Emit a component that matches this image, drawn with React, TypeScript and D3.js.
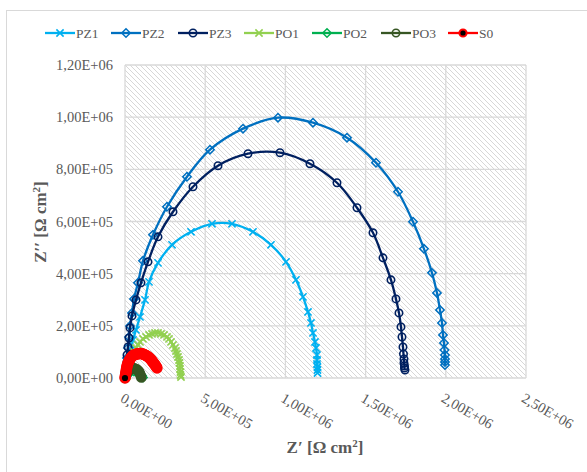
import React from 'react';
import * as d3 from 'd3';

const W = 587;
const H = 472;

const xTicks = [0, 5e5, 1e6, 1.5e6, 2e6, 2.5e6];
const yTicks = [0, 2e5, 4e5, 6e5, 8e5, 1e6, 1.2e6];
const seriesNames = ['PZ1', 'PZ2', 'PZ3', 'PO1', 'PO2', 'PO3', 'S0'];

const PZ1: [number, number][] = [
  [6234, 7678], [18702, 23034], [24936, 49907], [31170, 76780], [37404, 107492],
  [49872, 145882], [68574, 184272], [93510, 234179], [124680, 299442], [149616, 368544],
  [205722, 441485], [292998, 510587], [411444, 560494], [542358, 591206], [667038, 591206],
  [797952, 560494], [910164, 510587], [1003674, 445324], [1066014, 376222], [1109652, 310959],
  [1140822, 253374], [1159524, 211145], [1171992, 172755], [1184460, 138204], [1190694, 115170],
  [1196928, 88297], [1196928, 69102], [1196928, 53746], [1200045, 42229], [1200045, 30712],
  [1200045, 19195],
];

const PZ2: [number, number][] = [
  [0, 0], [6234, 38390], [12468, 76780], [18702, 115170], [24936, 157399],
  [31170, 199628], [43638, 249535], [56106, 303281], [81042, 364705], [112212, 449163],
  [174552, 548977], [261828, 656469], [386508, 771639], [529890, 875292], [735612, 955911],
  [953802, 998140], [1171992, 978945], [1383948, 921360], [1564734, 825385], [1701882, 714054],
  [1795392, 598884], [1863966, 495231], [1913838, 403095], [1945008, 326315], [1963710, 261052],
  [1976178, 211145], [1982412, 165077], [1988646, 134365], [1991763, 107492], [1994880, 88297],
  [1994880, 72941], [1994880, 61424], [1994880, 49907],
];

const PZ3: [number, number][] = [
  [0, 0], [6234, 30712], [12468, 61424], [12468, 88297], [18702, 119009],
  [24936, 153560], [31170, 191950], [43638, 238018], [68574, 299442], [99744, 364705],
  [143382, 445324], [205722, 541299], [299232, 637274], [423912, 733249], [579762, 813868],
  [766782, 859936], [966270, 863775], [1153290, 821546], [1321608, 748605], [1446288, 652630],
  [1546032, 556655], [1608372, 460680], [1658244, 376222], [1689414, 303281], [1708116, 249535],
  [1720584, 195789], [1726818, 157399], [1733052, 119009], [1736169, 92136], [1739286, 72941],
  [1739286, 57585], [1742403, 46068], [1742403, 38390], [1745520, 30712],
];

const PO1: [number, number][] = [
  [12468, 7678], [18702, 23034], [24936, 38390], [31170, 53746], [37404, 69102],
  [43638, 84458], [56106, 99814], [68574, 115170], [81042, 126687], [93510, 138204],
  [112212, 149721], [130914, 157399], [149616, 165077], [168318, 168916], [187020, 172755],
  [205722, 172755], [224424, 168916], [243126, 165077], [261828, 157399], [274296, 149721],
  [286764, 138204], [299232, 126687], [311700, 115170], [317934, 103653], [324168, 92136],
  [330402, 80619], [336636, 69102], [339753, 57585], [342870, 46068], [342870, 34551],
  [345987, 23034], [345987, 11517], [349104, 3839],
];

const PO2: [number, number][] = [
  [0, 0], [6234, 7678], [18702, 15356], [37404, 23034], [56106, 24954],
  [74808, 23034], [93510, 17276], [105978, 9598], [112212, 1920],
];

const PO3: [number, number][] = [
  [0, 0], [3117, 7678], [6234, 13436], [12468, 19195], [18702, 24954],
  [24936, 29000], [31170, 32632], [37404, 34551], [43638, 36471], [49872, 37430],
  [56106, 37430], [62340, 36471], [68574, 34551], [74808, 32632], [81042, 28793],
  [87276, 24954], [91640, 19195], [95380, 13436], [99120, 7678], [101620, 1920],
];

const S0: [number, number][] = [
  [0, 0], [1500, 5760], [3117, 11517], [4700, 17276], [6234, 23034],
  [7800, 28793], [9351, 34551], [11000, 40310], [12468, 46068], [15600, 51827],
  [18702, 57585], [21800, 61424], [24936, 65263], [28000, 69102], [31170, 72941],
  [35800, 76780], [40521, 80619], [45200, 83500], [49872, 86378], [56100, 88297],
  [62340, 90217], [68574, 91177], [74808, 92136], [81042, 93096], [87276, 94056],
  [93510, 94056], [99744, 94056], [105978, 93096], [112212, 92136], [118446, 90217],
  [124680, 88297], [130914, 86378], [137148, 84458], [143382, 81579], [149616, 78700],
  [155850, 74861], [162084, 71022], [166760, 67183], [171435, 63344], [176110, 59505],
  [180786, 55666], [185460, 51827], [190137, 47988], [194810, 43189], [199488, 38390],
];

const seriesData = [PZ1, PZ2, PZ3, PO1, PO2, PO3, S0];
const colors = ['#00B0F0', '#0070C0', '#002060', '#92D050', '#00B050', '#375623', '#FF0000'];
const markers = ['x', 'diamond', 'circle', 'x', 'diamond', 'circle', 'dot'];

const plot = { left: 125, right: 526, top: 65, bottom: 378 };
const legendX = [45, 111, 178, 244, 312, 381, 448];

const TEXT = '#595959';
const GRID = '#d9d9d9';
const FONT = '"Liberation Serif", "Times New Roman", serif';

const fmt = (v: number) =>
  v.toExponential(2).replace('.', ',').replace('e+', 'E+').replace(/E\+(\d)$/, 'E+0$1');

function Marker({ type, x, y, color, big }: { type: string; x: number; y: number; color: string; big?: boolean }) {
  if (type === 'x') {
    const s = 3.6;
    return (
      <path
        d={`M${x - s},${y - s}L${x + s},${y + s}M${x - s},${y + s}L${x + s},${y - s}`}
        stroke={color}
        strokeWidth={1.6}
        fill="none"
      />
    );
  }
  if (type === 'diamond') {
    const s = 4.2;
    return (
      <path
        d={`M${x},${y - s}L${x + s},${y}L${x},${y + s}L${x - s},${y}Z`}
        stroke={color}
        strokeWidth={1.5}
        fill="none"
      />
    );
  }
  if (type === 'circle') {
    return <circle cx={x} cy={y} r={big ? 4.2 : 3.7} stroke={color} strokeWidth={big ? 2.2 : 1.6} fill="none" />;
  }
  return <circle cx={x} cy={y} r={big ? 4.4 : 3.6} stroke={color} strokeWidth={big ? 2.6 : 2} fill="#000" />;
}

export default function App() {
  const x = d3.scaleLinear().domain([0, 2.5e6]).range([plot.left, plot.right]);
  const y = d3.scaleLinear().domain([0, 1.2e6]).range([plot.bottom, plot.top]);
  const line = d3
    .line<[number, number]>()
    .x((d) => x(d[0]))
    .y((d) => y(d[1]))
    .curve(d3.curveCatmullRom.alpha(0.5));

  return (
    <svg
      width={W}
      height={H}
      style={{ position: 'absolute', left: 0, top: 0, background: '#fff' }}
      fontFamily={FONT}
    >
      <defs>
        <pattern id="hatch" patternUnits="userSpaceOnUse" width={5} height={5}>
          <path d="M-1,-1L6,6M-1,4L1,6M4,-1L6,1" stroke="#d3d3d3" strokeWidth={0.9} />
        </pattern>
        <clipPath id="clip">
          <rect x={plot.left - 6} y={plot.top - 6} width={plot.right - plot.left + 12} height={plot.bottom - plot.top + 12} />
        </clipPath>
      </defs>
      <rect x={0} y={0} width={W} height={H} fill="#fff" />
      <rect x={6.5} y={10.5} width={700} height={700} fill="none" stroke={GRID} strokeWidth={1} />

      <rect
        x={plot.left}
        y={plot.top}
        width={plot.right - plot.left}
        height={plot.bottom - plot.top}
        fill="url(#hatch)"
      />
      {yTicks.map((t) => (
        <line key={'gy' + t} x1={plot.left} x2={plot.right} y1={y(t)} y2={y(t)} stroke={GRID} strokeWidth={1.3} />
      ))}
      {xTicks.map((t) => (
        <line key={'gx' + t} x1={x(t)} x2={x(t)} y1={plot.top} y2={plot.bottom} stroke={GRID} strokeWidth={1.3} />
      ))}

      {yTicks.map((t) => (
        <text key={'ty' + t} x={113} y={y(t)} dy="0.35em" textAnchor="end" fontSize={14.5} fill={TEXT}>
          {fmt(t)}
        </text>
      ))}
      {xTicks.map((t) => (
        <text
          key={'tx' + t}
          transform={`translate(${x(t) - 5.5},${plot.bottom + 23}) rotate(30)`}
          fontSize={14.5}
          fill={TEXT}
        >
          {fmt(t)}
        </text>
      ))}

      <g clipPath="url(#clip)">
        {seriesData.map((data, i) => {
          const pts = markers[i] === 'dot' ? data.slice().reverse() : data;
          return (
            <g key={seriesNames[i]}>
              <path d={line(data) || ''} stroke={colors[i]} strokeWidth={2.3} fill="none" />
              {pts.map((d, j) => (
                <Marker key={j} type={markers[i]} x={x(d[0])} y={y(d[1])} color={colors[i]} big={i >= 5} />
              ))}
            </g>
          );
        })}
      </g>

      {seriesNames.map((name, i) => (
        <g key={'lg' + name}>
          <line x1={legendX[i]} x2={legendX[i] + 30} y1={33} y2={33} stroke={colors[i]} strokeWidth={2.3} />
          <Marker type={markers[i]} x={legendX[i] + 15} y={33} color={colors[i]} />
          <text x={legendX[i] + 31} y={38} fontSize={13.5} fill={TEXT}>
            {name}
          </text>
        </g>
      ))}

      <text x={325} y={453} textAnchor="middle" fontSize={17} fontWeight="bold" fill={TEXT}>
        Z′ [Ω cm
        <tspan dy={-6} fontSize={11}>2</tspan>
        <tspan dy={6}>]</tspan>
      </text>
      <text
        transform={`translate(46,222) rotate(-90)`}
        textAnchor="middle"
        fontSize={17}
        fontWeight="bold"
        fill={TEXT}
      >
        Z′′ [Ω cm
        <tspan dy={-6} fontSize={11}>2</tspan>
        <tspan dy={6}>]</tspan>
      </text>
    </svg>
  );
}
